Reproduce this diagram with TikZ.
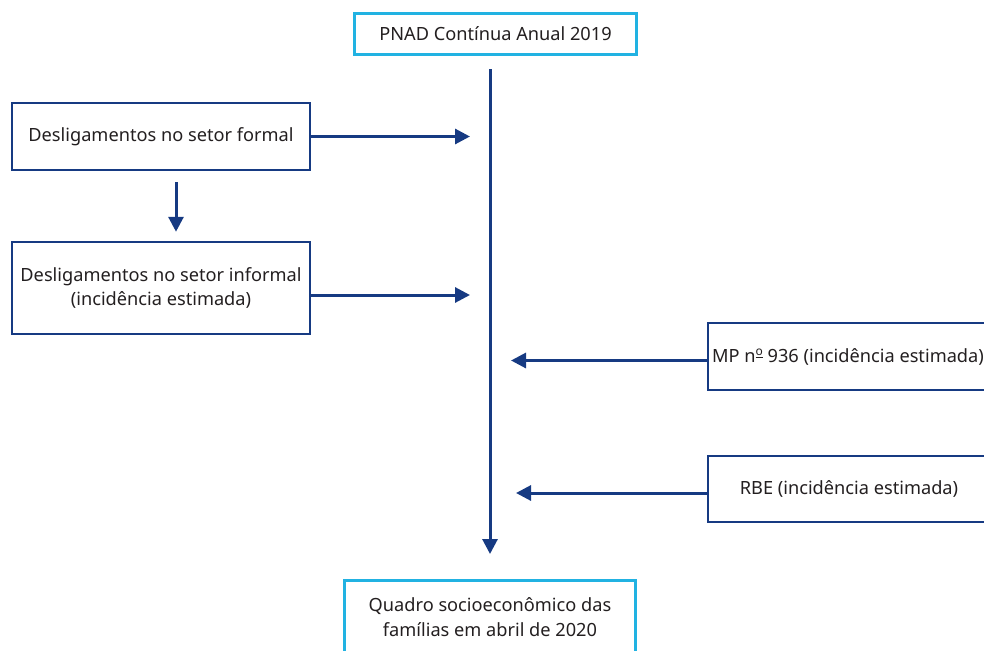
\documentclass[tikz,border=0pt]{standalone}
\usepackage{fontspec}
\setmainfont{Noto Sans}
\usetikzlibrary{calc,positioning,arrows.meta}
\definecolor{azul}{RGB}{22,58,130}
\definecolor{ciano}{RGB}{33,178,226}
\definecolor{texto}{RGB}{35,31,32}
\tikzset{
  caixa/.style={draw=azul,line width=2.5pt,align=center,text=texto,font=\fontsize{18.2}{24.5}\selectfont},
  caixaazul/.style={caixa,draw=ciano,line width=3pt},
  seta/.style={draw=azul,line width=3pt,-{Triangle[length=15pt,width=15pt]}}
}
\begin{document}
\begin{tikzpicture}[x=1pt,y=-1pt]
\useasboundingbox(0,0)rectangle(984,650);
\clip(0,0)rectangle(984,650);
\node[caixaazul,minimum width=282pt,minimum height=41pt](pnad)at(495.5,34){PNAD Contínua Anual 2019};
\node[caixa,minimum width=298pt,minimum height=67pt](formal)at(161,136.5){Desligamentos no setor formal};
\node[caixa,minimum width=298pt,minimum height=92pt](informal)at(161,288){Desligamentos no setor informal\\(incidência estimada)};
\node[caixa,minimum width=280pt,minimum height=67pt,inner xsep=2pt](mp)at(848,356.5){MP n\raisebox{0.7ex}{\fontsize{12}{12}\selectfont\underline{o}} 936 (incidência estimada)};
\node[caixa,minimum width=282pt,minimum height=66pt](rbe)at(849,489){RBE (incidência estimada)};
\node[caixaazul,minimum width=291pt,minimum height=73pt](quadro)at(490,617){Quadro socioeconômico das\\famílias em abril de 2020};
\coordinate(topo)at(pnad.south-|quadro.north);
\draw[seta,shorten <=13.5pt,shorten >=25pt](topo)--(quadro.north);
\draw[seta,shorten >=20pt](formal.east)--(formal.east-|quadro.north);
\draw[seta,shorten >=20pt]([yshift=-7pt]informal.east)--([yshift=-7pt]informal.east-|quadro.north);
\draw[seta,shorten <=11pt,shorten >=9pt]([xshift=15pt]formal.south)--([xshift=15pt]informal.north);
\draw[seta,shorten >=21pt]([yshift=-4pt]mp.west)--([yshift=-4pt]mp.west-|quadro.north);
\draw[seta,shorten >=26pt]([yshift=-4pt]rbe.west)--([yshift=-4pt]rbe.west-|quadro.north);
\end{tikzpicture}
\end{document}
